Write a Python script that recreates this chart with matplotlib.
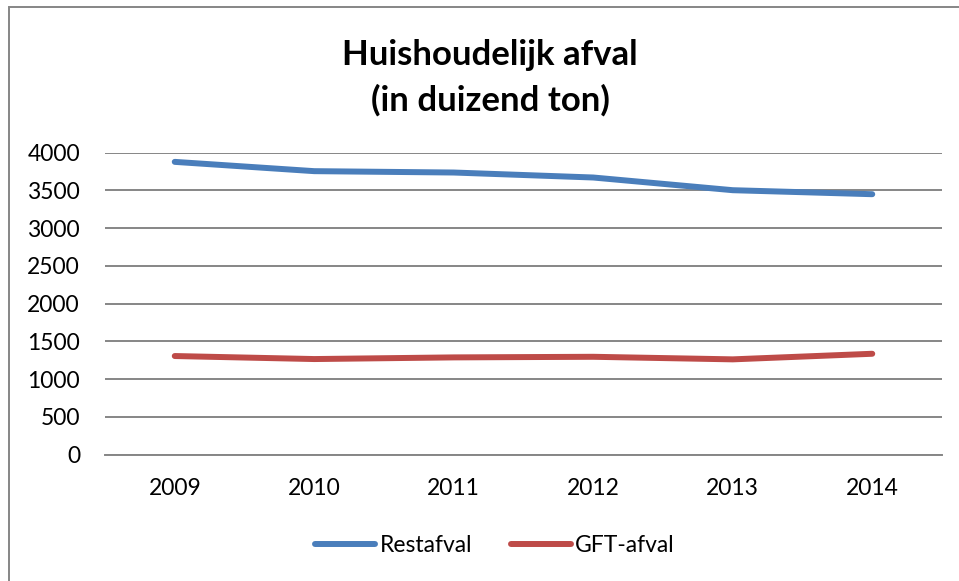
import matplotlib.pyplot as plt
from matplotlib.patches import Rectangle

# data (thousand tonnes)
years = ["2009", "2010", "2011", "2012", "2013", "2014"]
restafval = [3876, 3753, 3735, 3669, 3501, 3448]
gft_afval = [1306, 1266, 1288, 1296, 1262, 1336]
yticks = [0, 500, 1000, 1500, 2000, 2500, 3000, 3500, 4000]

plt.rcParams['font.family'] = ['Lato', 'DejaVu Sans']

W, H = 959, 581
fig = plt.figure(figsize=[W / 100, H / 100], dpi=100)

# plot area in pixels
left, right, top, bottom = 105, 942, 152.5, 454.7
ax = fig.add_axes([left / W, 1 - bottom / H, (right - left) / W, (bottom - top) / H])

x = range(len(years))
ax.plot(x, restafval, color='#4a7ebb', lw=4.3, solid_capstyle='round', label='Restafval', zorder=3)
ax.plot(x, gft_afval, color='#be4b48', lw=4.3, solid_capstyle='round', label='GFT-afval', zorder=3)

ax.set_xlim(-0.5, len(years) - 0.5)
ax.set_ylim(0, 4000)
ax.set_xticks(list(x))
ax.set_xticklabels(years)
ax.set_yticks(yticks)
ax.tick_params(axis='both', length=0, labelsize=16.5, colors='black')
ax.tick_params(axis='x', pad=17)
ax.tick_params(axis='y', pad=18)
ax.grid(axis='y', color='#868686', lw=1.4)
ax.set_axisbelow(True)
for s in ['left', 'right', 'top']:
    ax.spines[s].set_visible(False)
ax.spines['bottom'].set_color('#868686')
ax.spines['bottom'].set_linewidth(1.4)

# title
fig.text(490 / W, 1 - 55 / H, "Huishoudelijk afval", ha='center', va='center',
         fontsize=25, fontweight='bold')
fig.text(490 / W, 1 - 100 / H, "(in duizend ton)", ha='center', va='center',
         fontsize=25, fontweight='bold')

# legend
fig.legend(loc='center', bbox_to_anchor=(495 / W, 1 - 546 / H), ncol=2, frameon=False,
           fontsize=16.5, handlelength=2.6, handletextpad=0.2, columnspacing=1.7)

# outer chart border (only top/left are inside the picture)
fig.patches.append(Rectangle((9 / W, -0.1), 1.1, 1 - 7 / H + 0.1, transform=fig.transFigure,
                             fill=False, edgecolor='#868686', lw=1.4))

plt.savefig('out.png', dpi=100)
plt.close()
